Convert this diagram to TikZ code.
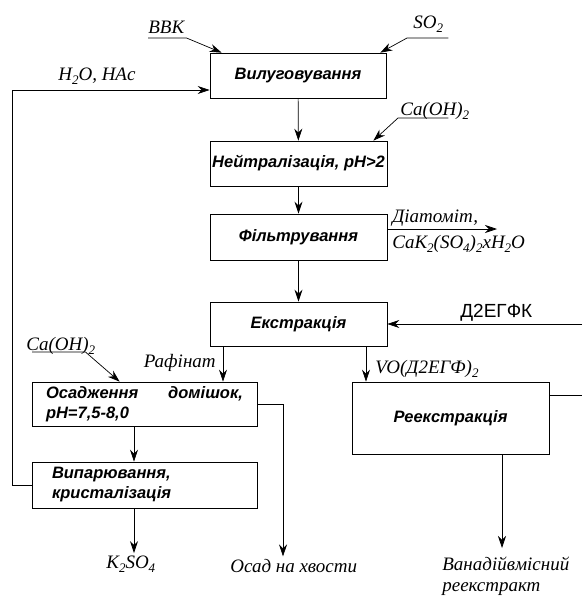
\documentclass[tikz,border=0pt]{standalone}
\usepackage{fontspec}
\setmainfont{Liberation Serif}
\setsansfont{Liberation Sans}
\usetikzlibrary{arrows.meta,positioning,calc}
\newcommand{\idx}[1]{\raisebox{-0.55ex}{\fontsize{13}{13}\selectfont #1}}

\begin{document}
\begin{tikzpicture}[x=1pt,y=-1pt,>={Stealth[length=12pt,width=8pt]},line width=0.7pt,
                box/.style={draw,rectangle,inner sep=0pt,font=\sffamily\bfseries\itshape\fontsize{16.5}{20}\selectfont},
                lbl/.style={inner sep=0pt,font=\itshape\fontsize{19}{21}\selectfont}]
  \useasboundingbox (0,0) rectangle (582,597);

  % process boxes
  \node[box,minimum width=176pt,minimum height=45pt] (vyl) at (298,75.5) {Вилуговування};
  \node[box,minimum width=177pt,minimum height=45pt] (neit) at (298.5,163.5) {Нейтралізація, pH>2};
  \node[box,minimum width=177pt,minimum height=46pt] (filt) at (298.5,237) {Фільтрування};
  \node[box,minimum width=177pt,minimum height=44pt] (ekstr) at (298.5,324) {Екстракція};
  \node[box,minimum width=225pt,minimum height=44pt,text width=197pt,align=left] (osad) at (144.5,404)
       {Осадження\hfill домішок,\\pH=7,5-8,0};
  \node[box,minimum width=225pt,minimum height=46pt,text width=185pt,align=left] (vypar) at (144.5,485)
       {Випарювання,\\кристалізація};
  \node[box,minimum width=197pt,minimum height=72pt] (reekstr) at (450.5,418) {Реекстракція};

  % labels
  \node[lbl,anchor=base west] (vvk) at (148,33) {ВВК};
  \node[lbl,anchor=base west] (so) at (413,28) {SO\idx{2}};
  \node[lbl,anchor=base west] (caa) at (400,115) {Ca(OH)\idx{2}};
  \node[lbl,anchor=base west] (cab) at (26,350) {Ca(OH)\idx{2}};
  \node[lbl,anchor=base west] (voda) at (58,80) {H\idx{2}O, HAc};
  \node[lbl,anchor=base west] (diat) at (392,222) {Діатоміт,};
  \node[lbl,anchor=base west] (cak) at (392,248) {CaK\idx{2}(SO\idx{4})\idx{2}xH\idx{2}O};
  \node[lbl,anchor=base east] (raf) at (216,367) {Рафінат};
  \node[lbl,anchor=base west] (vo) at (375,373) {VO(Д2ЕГФ)\idx{2}};
  \node[inner sep=0pt,font=\sffamily\fontsize{19}{21}\selectfont,anchor=base west] (degfk) at (460,317) {Д2ЕГФК};
  \node[lbl,anchor=base west,inner sep=2pt] (ksul) at (104,568) {K\idx{2}SO\idx{4}};
  \node[lbl,anchor=base west,inner sep=2pt] (hvost) at (228,572) {Осад на хвости};
  \node[lbl,anchor=north west,align=left] (vanad) at (442,557) {Ванадійвмісний\\реекстракт};

  \coordinate (dright) at (582,324);
  \coordinate (rright) at (582,395);
  \coordinate (fout) at (497,229);
  \coordinate (obend) at (283,404);
  \coordinate (rcl) at (12,485);

  % main column
  \path[->]
    (vyl) edge (neit)
    (neit) edge (filt)
    (filt) edge (ekstr)
  ;
  \draw[->] ([xshift=-75.5pt]ekstr.south) -- ([xshift=-75.5pt]ekstr.south |- osad.north);
  \draw[->] ([xshift=67.5pt]ekstr.south) -- ([xshift=67.5pt]ekstr.south |- reekstr.north);
  \draw[->] ([xshift=-10.5pt]osad.south) -- ([xshift=-10.5pt]osad.south |- vypar.north);
  \draw[->] ([xshift=-10.5pt]vypar.south) -- ([xshift=-10.5pt]vypar.south |- ksul.north);
  \draw[->] ([xshift=51.5pt]reekstr.south) -- ($([xshift=51.5pt]reekstr.south |- vanad.north)+(0,-9)$);
  \draw[->] (osad.east) -- (obend) -- (obend |- hvost.north);
  \draw[->] (dright) -- (ekstr.east);
  \draw (reekstr.east |- rright) -- (rright);
  \draw[->] ([yshift=8pt]filt.east) -- (fout);
  \draw[->] (vypar.west) -- (rcl) |- ([yshift=-14.5pt]vyl.west);

  % reagent inputs
  \draw[->] ([yshift=-5pt]vvk.base west) -- ([xshift=2pt,yshift=-5pt]vvk.base east) -- ([xshift=12pt]vyl.north west);
  \draw[->] ([xshift=5pt,yshift=-10pt]so.base east) -- ([xshift=-6pt,yshift=-10pt]so.base west) -- ([xshift=-6pt]vyl.north east);
  \draw[->] ([xshift=-21pt,yshift=-3pt]caa.base east) -- ([xshift=-2pt,yshift=-3pt]caa.base west) -- ([xshift=-14pt]neit.north east);
  \draw[->] ([xshift=6pt,yshift=-2pt]cab.base west) -- ([xshift=-10pt,yshift=-2pt]cab.base east) -- ([xshift=88pt]osad.north west);
\end{tikzpicture}
\end{document}
